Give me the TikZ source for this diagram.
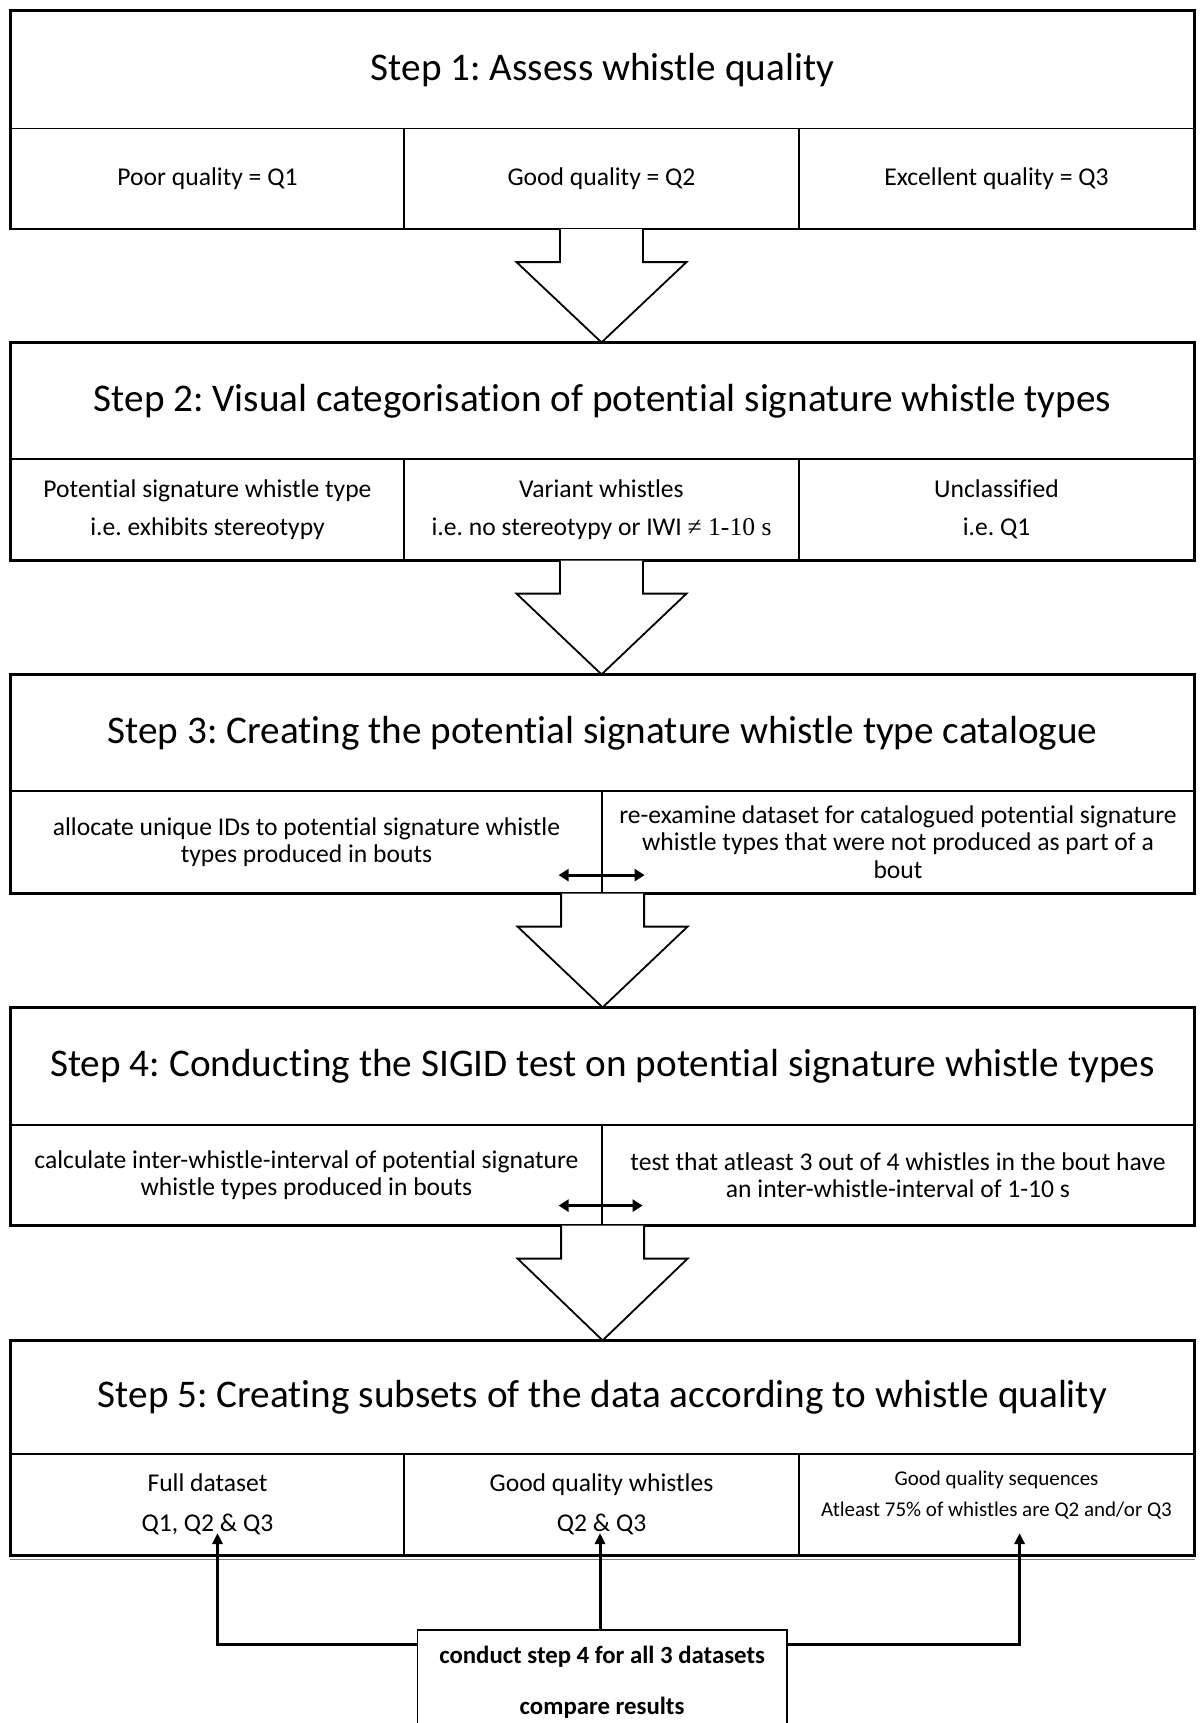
\documentclass[tikz,border=0pt]{standalone}
\usepackage{fontspec}
\setmainfont{Carlito}[Ligatures=NoCommon]
\newfontfamily\serifalt{Liberation Serif}
\usetikzlibrary{arrows.meta,calc}
\frenchspacing

\tikzset{
  cell/.style={draw, line width=0.6pt, inner sep=0pt, align=center,
    font=\fontsize{12.8}{19.2}\selectfont},
  titlecell/.style={cell, font=\fontsize{19.6}{22}\selectfont},
  tightcell/.style={cell, font=\fontsize{12.8}{13.75}\selectfont},
  widecell/.style={cell, font=\fontsize{12.8}{20}\selectfont},
  smalltext/.style={inner sep=0pt, align=center, font=\fontsize{10.5}{15.5}\selectfont},
  boldbox/.style={draw, line width=0.9pt, inner sep=0pt, align=center,
    font=\bfseries\fontsize{12.4}{25.5}\selectfont},
  frame/.style={line width=1.1pt},
  bigarrow/.style={draw, line width=0.9pt, fill=white, line join=miter},
  conn/.style={line width=1.5pt, -{Triangle[length=5.5pt,width=5pt]}},
  dbl/.style={line width=1.6pt, {Triangle[length=5pt,width=6pt]}-{Triangle[length=5pt,width=6pt]}},
}

\newcommand{\blockarrow}[2]{%
  \draw[bigarrow] ($(#1)+(-41.5,0)$) -- ++(0,33) -- ++(-43.5,0) -- (#1 |- #2)
    -- ($(#1)+(85,33)$) -- ++(-43.5,0) -- ($(#1)+(41.5,0)$);}

\newcommand{\cellnode}[7][cell]{%
  \pgfmathsetmacro\cw{(#5-#3)*0.5}\pgfmathsetmacro\ch{(#6-#4)*0.5}%
  \node[#1, minimum width=\cw pt, minimum height=\ch pt] (#2) at ({(#3+#5)/2},{(#4+#6)/2}) {#7};}

\begin{document}
\begin{tikzpicture}[x=0.5pt,y=-0.5pt]
\useasboundingbox (0,0) rectangle (1202,1723);
\clip (0,0) rectangle (1202,1723);

% Step 1
\cellnode[titlecell]{s1}{11}{11}{1194}{128.5}{Step 1: Assess whistle quality}
\cellnode{s1a}{11}{128.5}{404}{228.5}{Poor quality = Q1}
\cellnode{s1b}{404}{128.5}{799}{228.5}{Good quality = Q2}
\cellnode{s1c}{799}{128.5}{1194}{228.5}{Excellent quality = Q3}
\draw[frame] (s1.north west) rectangle (s1c.south east);

% Step 2
\cellnode[titlecell]{s2}{11}{343}{1194}{459}{Step 2: Visual categorisation of potential signature whistle types}
\cellnode{s2a}{11}{459}{404}{560}{Potential signature whistle type\\i.e. exhibits stereotypy}
\cellnode{s2b}{404}{459}{799}{560}{Variant whistles\\i.e. no stereotypy or IWI {\serifalt ≠ 1-10 s}}
\cellnode{s2c}{799}{459}{1194}{560}{Unclassified\\i.e. Q1}
\draw[frame] (s2.north west) rectangle (s2c.south east);

% Step 3
\cellnode[titlecell]{s3}{11}{675}{1194}{791}{Step 3: Creating the potential signature whistle type catalogue}
\cellnode[tightcell]{s3a}{11}{791}{602}{893}{allocate unique IDs to potential signature whistle\\types produced in bouts}
\cellnode[tightcell]{s3b}{602}{791}{1194}{893}{re-examine dataset for catalogued potential signature\\whistle types that were not produced as part of a\\bout}
\draw[frame] (s3.north west) rectangle (s3b.south east);
\coordinate (d3l) at ($(s3a.south east)+(-44,-18.5)$);
\coordinate (d3r) at ($(s3a.south east)+(42,-18.5)$);
\draw[dbl] (d3l) -- (d3r);

% Step 4
\cellnode[titlecell]{s4}{11}{1008}{1194}{1125}{Step 4: Conducting the SIGID test on potential signature whistle types}
\cellnode[tightcell]{s4a}{11}{1125}{602}{1225}{calculate inter-whistle-interval of potential signature\\whistle types produced in bouts}
\cellnode[tightcell]{s4b}{602}{1125}{1194}{1225}{test that atleast 3 out of 4 whistles in the bout have\\an inter-whistle-interval of 1-10 s}
\draw[frame] (s4.north west) rectangle (s4b.south east);
\coordinate (d4l) at ($(s4a.south east)+(-44,-20)$);
\coordinate (d4r) at ($(s4a.south east)+(40,-20)$);
\draw[dbl] (d4l) -- (d4r);

% Step 5
\cellnode[titlecell]{s5}{11}{1341}{1194}{1454}{Step 5: Creating subsets of the data according to whistle quality}
\cellnode[widecell]{s5a}{11}{1454}{404}{1555}{Full dataset\\Q1, Q2 \& Q3}
\cellnode[widecell]{s5b}{404}{1454}{799}{1555}{Good quality whistles\\Q2 \& Q3}
\cellnode{s5c}{799}{1454}{1194}{1555}{}
\node[smalltext] (s5ct) at ($(s5c.center)+(0,-9)$) {Good quality sequences\\Atleast 75\% of whistles are Q2 and/or Q3};
\draw[frame] (s5.north west) rectangle (s5c.south east);
\draw[line width=0.6pt, gray] ($(s5a.south west)+(0,4)$) -- ($(s5c.south east)+(0,4)$);

% Block arrows
\blockarrow{s1b.south}{s2.north}
\blockarrow{s2b.south}{s3.north}
\blockarrow{s3a.south east}{s4.north}
\blockarrow{s4a.south east}{s5.north}

% Bottom box
\cellnode[boldbox]{cmp}{417.5}{1630}{786.7}{1734}{conduct step 4 for all 3 datasets\\compare results}
\coordinate (t1) at (217.5,1533);
\coordinate (t2) at (600,1533);
\coordinate (t3) at (1019.6,1533);
\draw[conn] ($(cmp.north west)+(0,15)$) -| (t1);
\draw[conn] (cmp.north -| t2) -- (t2);
\draw[conn] ($(cmp.north east)+(0,15)$) -| (t3);
\end{tikzpicture}
\end{document}
